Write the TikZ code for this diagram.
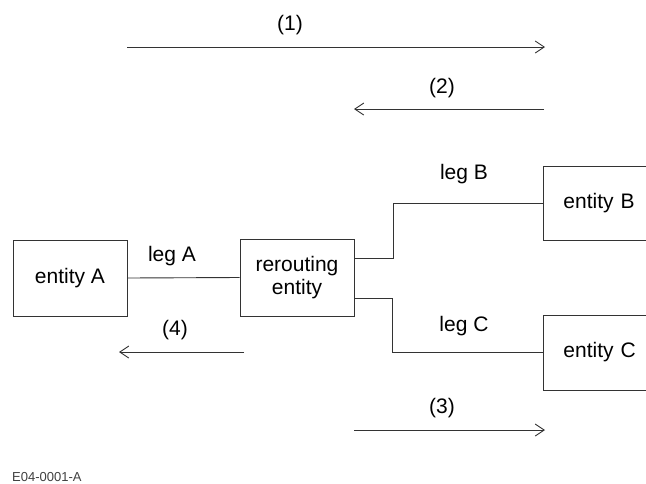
\documentclass[tikz,border=0pt]{standalone}
\usepackage{fontspec}
\setmainfont{Liberation Sans}
\usetikzlibrary{arrows.meta}
\begin{document}
\begin{tikzpicture}[x=1pt,y=-1pt,
  ln/.style={line width=0.9pt,draw=black!80},
  arr/.style={ln,-{Straight Barb[length=9pt,width=12pt,line width=0.9pt]}},
  box/.style={ln,rectangle,inner sep=0pt,font=\fontsize{21}{23}\selectfont,align=center},
  lbl/.style={font=\fontsize{21}{23}\selectfont,inner sep=0pt}]
\clip (0,0) rectangle (646,483);
\fill[white] (0,0) rectangle (646,483);
% arrows
\coordinate (a1s) at (127,47); \coordinate (a1e) at (545,47);
\draw[arr] (a1s) -- (a1e);
\node[lbl] (l1) at (290,25) {(1)};
\coordinate (a2s) at (544,109); \coordinate (a2e) at (354,109);
\draw[arr] (a2s) -- (a2e);
\node[lbl] (l2) at (442,88) {(2)};
\coordinate (a4s) at (244,352); \coordinate (a4e) at (119,352);
\draw[arr] (a4s) -- (a4e);
\node[lbl] (l4) at (175,330) {(4)};
\coordinate (a3s) at (354,430); \coordinate (a3e) at (545,430);
\draw[arr] (a3s) -- (a3e);
\node[lbl] (l3) at (442,408) {(3)};
% boxes
\node[box,draw,minimum width=114pt,minimum height=76pt] (A) at (70,278) {entity A};
\node[box,draw,minimum width=114pt,minimum height=77pt] (R) at (297,277.5) {rerouting\\entity};
\node[box,draw,anchor=west,minimum height=74pt,text width=130pt,align=left,inner xsep=20pt] (B) at (543,203) {entity B};
\node[box,draw,anchor=west,minimum height=75pt,text width=130pt,align=left,inner xsep=20pt] (C) at (543,352.5) {entity C};
% legs
\draw[ln] (A.east) -- (R.west);
\node[lbl] (lA) at (172,256) {leg A};
\coordinate (rb) at (354,258);
\coordinate (rc) at (354,298);
\draw[ln] (rb) -- ++(39,0) |- (B.west);
\draw[ln] (rc) -- ++(38,0) |- (C.west);
\node[lbl] (lB) at (464,174) {leg B};
\node[lbl] (lC) at (464,326) {leg C};
\node[anchor=base west,inner sep=0pt,font=\fontsize{13}{15}\selectfont,text=black!75] (fig) at (12,481) {E04-0001-A};
\end{tikzpicture}
\end{document}
